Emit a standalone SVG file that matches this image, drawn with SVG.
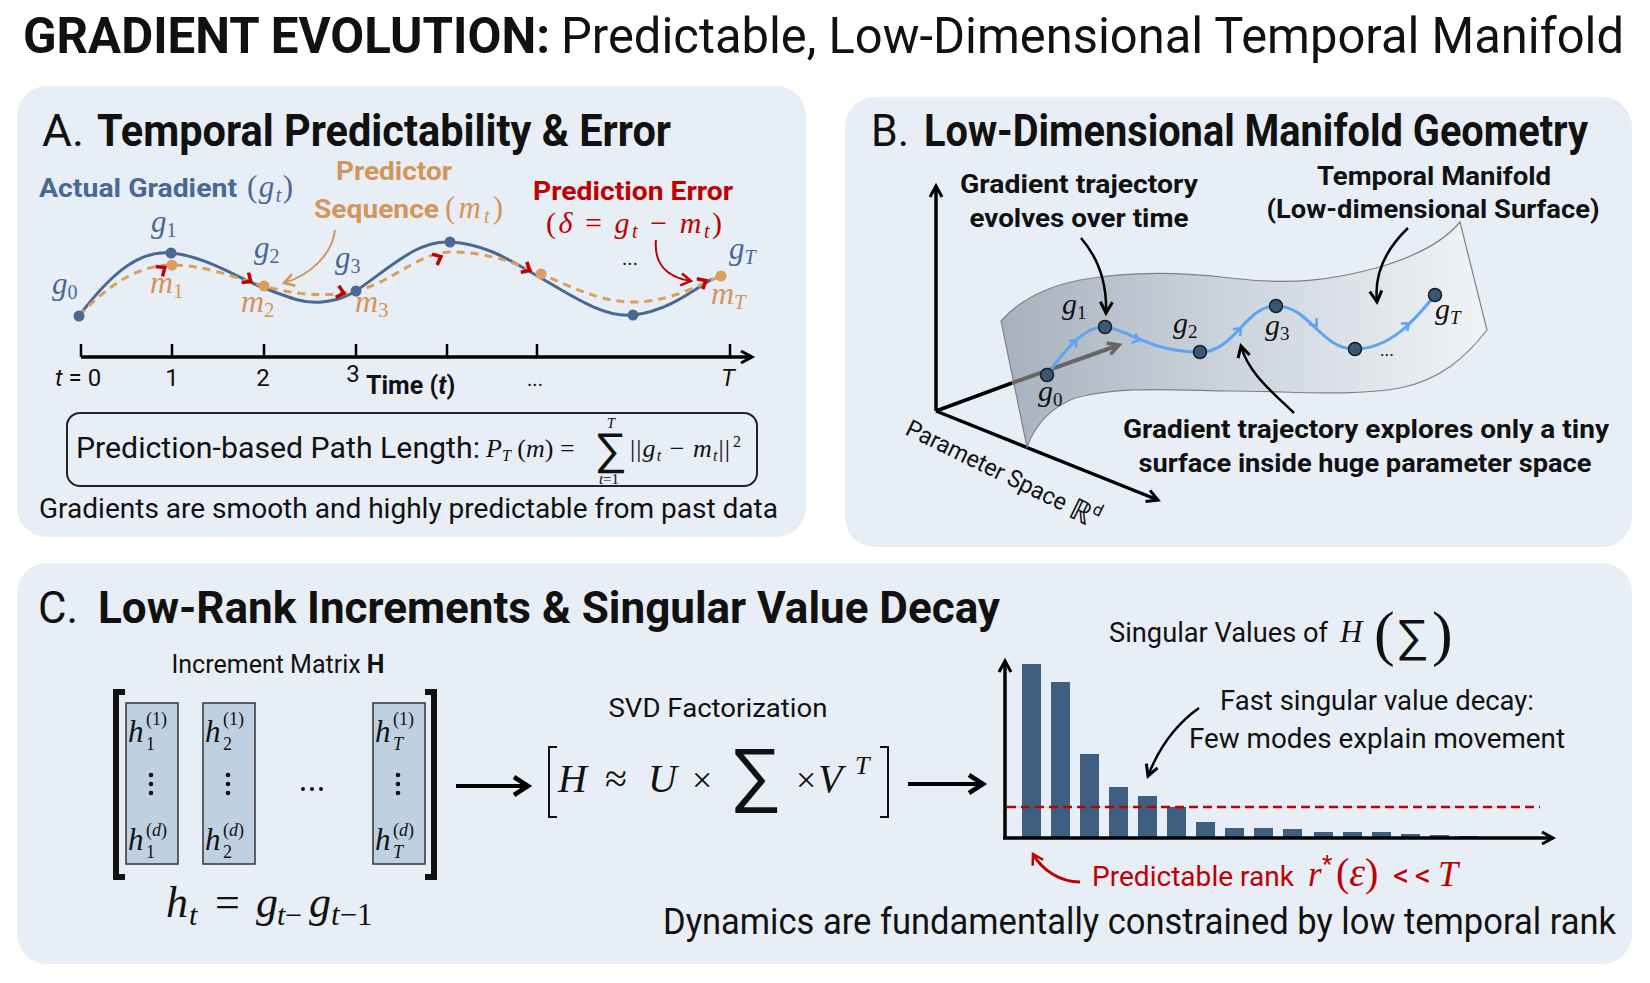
<svg xmlns="http://www.w3.org/2000/svg" width="1650" height="983" viewBox="0 0 1650 983">
<defs>
<style>
text{font-family:Roboto,'Open Sans','Liberation Sans',sans-serif;fill:#111}
.m,.m text{font-family:'Liberation Serif','DejaVu Serif',serif;font-style:italic}
.r,.m .r{font-style:normal}
.b{font-weight:700}
.panel{fill:#e8eef5}
.ax{stroke:#000;stroke-width:3.5;fill:none}
.slate{fill:#4a6894}
.tan{fill:#d4955a}
.red{fill:#c00000}
.bdot{fill:#4a6894}
.odot{fill:#dc9e5c}
.chev{fill:none;stroke:#c00000;stroke-width:3.5}
.bchev{fill:none;stroke:#5ea4f5;stroke-width:2.5}
.node{fill:#3d5672;stroke:#15202e;stroke-width:1.5}
.col{fill:#bfd0e1;stroke:#333;stroke-width:1.5}
.bar{fill:#3e5f80}
.ann{fill:none;stroke:#000;stroke-width:2.5}
</style>
<linearGradient id="surf" x1="0" y1="0" x2="1" y2="0">
<stop offset="0" stop-color="#a7b1bd"/>
<stop offset="0.45" stop-color="#cad2db"/>
<stop offset="1" stop-color="#f1f4f6"/>
</linearGradient>
<marker id="ahK" markerUnits="userSpaceOnUse" markerWidth="20" markerHeight="20" viewBox="0 0 20 20" refX="16" refY="10" orient="auto"><path d="M5,4 L16,10 L5,16" fill="none" stroke="#000" stroke-width="3"/></marker>
<marker id="ahT" markerUnits="userSpaceOnUse" markerWidth="20" markerHeight="20" viewBox="0 0 20 20" refX="16" refY="10" orient="auto"><path d="M6,4 L16,10 L6,16" fill="none" stroke="#d4955a" stroke-width="2.5"/></marker>
<marker id="ahR" markerUnits="userSpaceOnUse" markerWidth="20" markerHeight="20" viewBox="0 0 20 20" refX="16" refY="10" orient="auto"><path d="M6,4 L16,10 L6,16" fill="none" stroke="#c00000" stroke-width="2.5"/></marker>
<marker id="ahG" markerUnits="userSpaceOnUse" markerWidth="20" markerHeight="20" viewBox="0 0 20 20" refX="16" refY="10" orient="auto"><path d="M5,4 L16,10 L5,16" fill="none" stroke="#666" stroke-width="3.5"/></marker>
<marker id="ahB" markerUnits="userSpaceOnUse" markerWidth="26" markerHeight="26" viewBox="0 0 26 26" refX="21" refY="13" orient="auto"><path d="M7,4 L21,13 L7,22" fill="none" stroke="#000" stroke-width="4.5"/></marker>
</defs>
<rect width="1650" height="983" fill="#fff"/>

<g id="title">
<text x="23" y="53" font-size="50" class="b" textLength="527" lengthAdjust="spacingAndGlyphs">GRADIENT EVOLUTION:</text>
<text x="561" y="53" font-size="50" textLength="1063" lengthAdjust="spacingAndGlyphs">Predictable, Low-Dimensional Temporal Manifold</text>
</g>

<!-- Panel A -->
<g id="panelA">
<rect class="panel" x="17" y="86" width="789" height="451" rx="30"/>
<text x="42" y="146" font-size="44" textLength="42" lengthAdjust="spacingAndGlyphs">A.</text>
<text x="97" y="146" font-size="44" class="b" textLength="574" lengthAdjust="spacingAndGlyphs">Temporal Predictability &amp;  Error</text>

<text x="39" y="197" font-size="26" class="b slate" textLength="198" lengthAdjust="spacingAndGlyphs">Actual Gradient</text>
<text x="247" y="197" font-size="31" class="m slate" textLength="46" lengthAdjust="spacing"><tspan class="r">(</tspan>g<tspan font-size="20" dy="5">t</tspan><tspan class="r" dy="-5">)</tspan></text>

<text x="394" y="180" font-size="26" class="b tan" text-anchor="middle" textLength="116" lengthAdjust="spacingAndGlyphs">Predictor</text>
<text x="314" y="218" font-size="26" class="b tan" textLength="125" lengthAdjust="spacingAndGlyphs">Sequence</text>
<text x="445" y="218" font-size="31" class="m tan" textLength="58" lengthAdjust="spacing"><tspan class="r">(</tspan>m<tspan font-size="20" dy="5">t</tspan><tspan class="r" dy="-5">)</tspan></text>

<text x="533" y="200" font-size="26" class="b red" textLength="200" lengthAdjust="spacingAndGlyphs">Prediction Error</text>
<text x="546" y="233" font-size="30" class="m red" textLength="176" lengthAdjust="spacing"><tspan class="r">(</tspan>δ <tspan class="r">=</tspan> g<tspan font-size="20" dy="5">t</tspan><tspan class="r" dy="-5"> − </tspan>m<tspan font-size="20" dy="5">t</tspan><tspan class="r" dy="-5">)</tspan></text>

<!-- curves -->
<path d="M79,316 C112,272 140,250 171,253 C205,256 238,278 264,288 C290,298 305,304 322,302 C338,300 346,297 356,291 C392,266 418,240 450,242 C488,244 512,262 541,278 C572,296 604,318 633,315 C665,312 690,293 712,279" fill="none" stroke="#4a6894" stroke-width="3"/>
<path d="M79,316 C108,285 138,265 172,265 C205,265 236,278 264,286 C292,294 322,298 356,291 C392,283 418,252 452,252 C488,252 514,263 541,274 C572,287 600,302 633,302 C668,302 695,287 721,276" fill="none" stroke="#dc9e5c" stroke-width="3" stroke-dasharray="8 6"/>

<path class="chev" transform="translate(164,268) rotate(-35)" d="M-6,-6 L1,0 L-6,6"/>
<path class="chev" transform="translate(250,281) rotate(35)" d="M-6,-6 L1,0 L-6,6"/>
<path class="chev" transform="translate(343,293) rotate(15)" d="M-6,-6 L1,0 L-6,6"/>
<path class="chev" transform="translate(440,257) rotate(-25)" d="M-6,-6 L1,0 L-6,6"/>
<path class="chev" transform="translate(529,270) rotate(30)" d="M-6,-6 L1,0 L-6,6"/>
<path class="chev" transform="translate(705,281) rotate(-30)" d="M-6,-6 L1,0 L-6,6"/>

<circle class="bdot" cx="79" cy="316" r="5.5"/>
<circle class="bdot" cx="171" cy="253" r="5.5"/>
<circle class="bdot" cx="356" cy="291" r="5.5"/>
<circle class="bdot" cx="450" cy="242" r="5.5"/>
<circle class="bdot" cx="633" cy="315" r="5.5"/>
<circle class="odot" cx="172" cy="265" r="5.5"/>
<circle class="odot" cx="264" cy="286" r="5.5"/>
<circle class="odot" cx="541" cy="274" r="5.5"/>
<circle class="odot" cx="721" cy="276" r="5.5"/>

<text x="52" y="294" font-size="31" class="m slate">g<tspan class="r" font-size="20" dy="5">0</tspan></text>
<text x="151" y="232" font-size="31" class="m slate">g<tspan class="r" font-size="20" dy="5">1</tspan></text>
<text x="150" y="293" font-size="32" class="m tan">m<tspan class="r" font-size="21" dy="5">1</tspan></text>
<text x="254" y="258" font-size="31" class="m slate">g<tspan class="r" font-size="20" dy="5">2</tspan></text>
<text x="241" y="312" font-size="32" class="m tan">m<tspan class="r" font-size="21" dy="5">2</tspan></text>
<text x="335" y="268" font-size="31" class="m slate">g<tspan class="r" font-size="20" dy="5">3</tspan></text>
<text x="355" y="312" font-size="32" class="m tan">m<tspan class="r" font-size="21" dy="5">3</tspan></text>
<text x="630" y="265" font-size="20" text-anchor="middle">...</text>
<text x="729" y="259" font-size="31" class="m slate">g<tspan font-size="20" dy="5">T</tspan></text>
<text x="711" y="304" font-size="32" class="m tan">m<tspan font-size="21" dy="5">T</tspan></text>

<!-- time axis -->
<path class="ax" d="M81,357 H752" stroke-width="3" marker-end="url(#ahK)"/>
<path d="M81,344 V357 M172,344 V357 M264,344 V357 M356,344 V357 M447,344 V357 M537,344 V357 M730,344 V357" stroke="#000" stroke-width="2.5"/>
<text x="55" y="386" font-size="24"><tspan font-style="italic">t</tspan> = 0</text>
<text x="172" y="386" font-size="24" text-anchor="middle">1</text>
<text x="263" y="386" font-size="24" text-anchor="middle">2</text>
<text x="353" y="382" font-size="24" text-anchor="middle">3</text>
<text x="366" y="394" font-size="25" class="b">Time (<tspan font-style="italic">t</tspan>)</text>
<text x="535" y="386" font-size="20" text-anchor="middle">...</text>
<text x="728" y="386" font-size="24" font-style="italic" text-anchor="middle">T</text>

<!-- formula box -->
<rect x="67" y="413" width="690" height="73" rx="13" fill="none" stroke="#222" stroke-width="2"/>
<text x="76" y="458" font-size="29" textLength="404" lengthAdjust="spacingAndGlyphs">Prediction-based Path Length:</text>
<text x="486" y="457" font-size="26" class="m">P<tspan font-size="16" dy="4">T</tspan><tspan class="r" dy="-4"> (</tspan>m<tspan class="r">) =</tspan></text>
<text x="610" y="467" font-size="47" class="r" text-anchor="middle" font-family="'DejaVu Serif',serif">∑</text>
<text x="611" y="428" font-size="15" class="m" text-anchor="middle">T</text>
<text x="609" y="484" font-size="15" class="m" text-anchor="middle">t<tspan class="r">=1</tspan></text>
<text x="630" y="457" font-size="26" class="m" textLength="100" lengthAdjust="spacing"><tspan class="r">||</tspan>g<tspan font-size="16" dy="4">t</tspan><tspan class="r" dy="-4"> − </tspan>m<tspan font-size="16" dy="4">t</tspan><tspan class="r" dy="-4">||</tspan></text>
<text x="733" y="447" font-size="16" class="r m">2</text>

<text x="39" y="518" font-size="27" textLength="739" lengthAdjust="spacingAndGlyphs">Gradients are smooth and highly predictable from past data</text>
</g>

<!-- Panel B -->
<g id="panelB">
<rect class="panel" x="845" y="97" width="787" height="450" rx="30"/>
<text x="871" y="146" font-size="44" textLength="38" lengthAdjust="spacingAndGlyphs">B.</text>
<text x="924" y="146" font-size="44" class="b" textLength="664" lengthAdjust="spacingAndGlyphs">Low-Dimensional Manifold Geometry</text>

<!-- axes -->
<path class="ax" d="M936,411 V186" marker-end="url(#ahK)"/>
<path class="ax" d="M936,411 L1158,500" marker-end="url(#ahK)"/>
<path class="ax" d="M936,411 L1012,383"/>

<!-- manifold -->
<path d="M1001,321 C1015,305 1040,288 1080,280 C1130,271 1180,272 1230,278 C1290,285 1330,281 1380,267 C1420,255 1445,240 1460,222 L1487,330 C1465,358 1440,380 1400,388 C1350,397 1290,391 1230,391 C1170,390 1120,386 1075,398 C1050,408 1035,425 1027,447 Z" fill="url(#surf)" stroke="#808080" stroke-width="1.2"/>

<path d="M1012,383 L1119,345" stroke="#666" stroke-width="4" fill="none" marker-end="url(#ahG)"/>

<path d="M1047,375 C1065,350 1085,325 1105,327 C1130,330 1150,352 1200,352 C1235,352 1245,306 1276,306 C1310,306 1320,349 1355,349 C1390,349 1415,320 1435,295" fill="none" stroke="#5ea4f5" stroke-width="3"/>
<path class="bchev" transform="translate(1076,341) rotate(-43)" d="M-5,-5 L1,0 L-5,5"/>
<path class="bchev" transform="translate(1138,340) rotate(22)" d="M-5,-5 L1,0 L-5,5"/>
<path class="bchev" transform="translate(1240,329) rotate(-47)" d="M-5,-5 L1,0 L-5,5"/>
<path class="bchev" transform="translate(1316,325) rotate(50)" d="M-5,-5 L1,0 L-5,5"/>
<path class="bchev" transform="translate(1408,324) rotate(-40)" d="M-5,-5 L1,0 L-5,5"/>

<circle class="node" cx="1047" cy="375" r="6.5"/>
<circle class="node" cx="1105" cy="327" r="6.5"/>
<circle class="node" cx="1200" cy="352" r="6.5"/>
<circle class="node" cx="1276" cy="306" r="6.5"/>
<circle class="node" cx="1355" cy="349" r="6.5"/>
<circle class="node" cx="1435" cy="295" r="6.5"/>

<text x="1038" y="401" font-size="30" class="m">g<tspan class="r" font-size="19" dy="5">0</tspan></text>
<text x="1062" y="314" font-size="30" class="m">g<tspan class="r" font-size="19" dy="5">1</tspan></text>
<text x="1173" y="333" font-size="30" class="m">g<tspan class="r" font-size="19" dy="5">2</tspan></text>
<text x="1265" y="335" font-size="30" class="m">g<tspan class="r" font-size="19" dy="5">3</tspan></text>
<text x="1435" y="319" font-size="30" class="m">g<tspan font-size="19" dy="5">T</tspan></text>
<text x="1387" y="356" font-size="18" text-anchor="middle">...</text>

<text x="1079" y="193" font-size="25" class="b" text-anchor="middle" textLength="238" lengthAdjust="spacingAndGlyphs">Gradient trajectory</text>
<text x="1079" y="227" font-size="25" class="b" text-anchor="middle" textLength="219" lengthAdjust="spacingAndGlyphs">evolves over time</text>
<text x="1434" y="185" font-size="25" class="b" text-anchor="middle" textLength="234" lengthAdjust="spacingAndGlyphs">Temporal Manifold</text>
<text x="1433" y="218" font-size="25" class="b" text-anchor="middle" textLength="333" lengthAdjust="spacingAndGlyphs">(Low-dimensional Surface)</text>
<text x="1366" y="438" font-size="25" class="b" text-anchor="middle" textLength="486" lengthAdjust="spacingAndGlyphs">Gradient trajectory explores only a tiny</text>
<text x="1365" y="472" font-size="25" class="b" text-anchor="middle" textLength="453" lengthAdjust="spacingAndGlyphs">surface inside huge parameter space</text>

<text transform="translate(904,434) rotate(26)" font-size="24" textLength="176" lengthAdjust="spacingAndGlyphs">Parameter Space</text>
<text transform="translate(904,434) rotate(26) translate(182,2)" font-size="30" font-family="'DejaVu Serif',serif">ℝ<tspan font-size="17" dy="-13">d</tspan></text>
</g>

<!-- Panel C -->
<g id="panelC">
<rect class="panel" x="17" y="563" width="1615" height="401" rx="30"/>
<text x="38" y="623" font-size="44" textLength="40" lengthAdjust="spacingAndGlyphs">C.</text>
<text x="98" y="623" font-size="44" class="b" textLength="902" lengthAdjust="spacingAndGlyphs">Low-Rank Increments &amp; Singular Value Decay</text>

<text x="278" y="673" font-size="25" text-anchor="middle">Increment Matrix <tspan class="b">H</tspan></text>

<path d="M125,692 H116 V877 H125" fill="none" stroke="#111" stroke-width="6"/>
<path d="M425,692 H434 V877 H425" fill="none" stroke="#111" stroke-width="6"/>

<rect class="col" x="126" y="703" width="52" height="161"/>
<rect class="col" x="203" y="703" width="52" height="161"/>
<rect class="col" x="373" y="703" width="52" height="161"/>

<g class="m" font-size="31">
<text x="128" y="742">h</text><text x="146" y="725" font-size="18" class="r">(1)</text><text x="146" y="750" font-size="18" class="r">1</text>
<text x="128" y="850">h</text><text x="146" y="836" font-size="18"><tspan class="r">(</tspan>d<tspan class="r">)</tspan></text><text x="146" y="858" font-size="18" class="r">1</text>
<text x="205" y="742">h</text><text x="223" y="725" font-size="18" class="r">(1)</text><text x="223" y="750" font-size="18" class="r">2</text>
<text x="205" y="850">h</text><text x="223" y="836" font-size="18"><tspan class="r">(</tspan>d<tspan class="r">)</tspan></text><text x="223" y="858" font-size="18" class="r">2</text>
<text x="375" y="742">h</text><text x="393" y="725" font-size="18" class="r">(1)</text><text x="393" y="750" font-size="18">T</text>
<text x="375" y="850">h</text><text x="393" y="836" font-size="18"><tspan class="r">(</tspan>d<tspan class="r">)</tspan></text><text x="393" y="858" font-size="18">T</text>
</g>
<g fill="#111">
<circle cx="151" cy="775" r="2.3"/><circle cx="151" cy="784" r="2.3"/><circle cx="151" cy="793" r="2.3"/>
<circle cx="228" cy="775" r="2.3"/><circle cx="228" cy="784" r="2.3"/><circle cx="228" cy="793" r="2.3"/>
<circle cx="398" cy="775" r="2.3"/><circle cx="398" cy="784" r="2.3"/><circle cx="398" cy="793" r="2.3"/>
<circle cx="303" cy="789" r="2"/><circle cx="312" cy="789" r="2"/><circle cx="321" cy="789" r="2"/>
</g>

<g class="m">
<text x="166" y="917" font-size="44">h</text>
<text x="189" y="925" font-size="30">t</text>
<text x="215" y="917" font-size="44" class="r">=</text>
<text x="256" y="917" font-size="44">g</text>
<text x="277" y="925" font-size="30">t<tspan class="r">−</tspan></text>
<text x="309" y="917" font-size="44">g</text>
<text x="331" y="925" font-size="31">t<tspan class="r">−1</tspan></text>
</g>

<path d="M456,786 H528" stroke="#000" stroke-width="4" marker-end="url(#ahB)"/>

<text x="718" y="717" font-size="26" text-anchor="middle" textLength="219" lengthAdjust="spacingAndGlyphs">SVD Factorization</text>
<path d="M557,747 H549 V817 H557" fill="none" stroke="#111" stroke-width="2"/>
<path d="M880,747 H888 V817 H880" fill="none" stroke="#111" stroke-width="2"/>
<text x="558" y="792" font-size="40" class="m">H</text>
<text x="605" y="792" font-size="40" class="m r">≈</text>
<text x="648" y="792" font-size="40" class="m">U</text>
<text x="692" y="792" font-size="36" class="m r">×</text>
<text x="755" y="803" font-size="76" class="r" text-anchor="middle" font-family="'DejaVu Serif',serif">∑</text>
<text x="796" y="792" font-size="36" class="m r">×</text>
<text x="818" y="792" font-size="40" class="m">V</text>
<text x="855" y="774" font-size="26" class="m">T</text>

<path d="M908,784 H983" stroke="#000" stroke-width="4" marker-end="url(#ahB)"/>

<!-- bar chart -->
<text x="1109" y="642" font-size="27" textLength="219" lengthAdjust="spacingAndGlyphs">Singular Values of</text>
<text x="1340" y="642" font-size="31" class="m">H</text>
<text x="1374" y="654" font-size="62" class="m r">(</text>
<text x="1412" y="654" font-size="48" class="r" text-anchor="middle" font-family="'DejaVu Serif',serif">∑</text>
<text x="1432" y="654" font-size="62" class="m r">)</text>

<g class="bar">
<rect x="1022" y="664" width="19" height="174"/>
<rect x="1051" y="682" width="19" height="156"/>
<rect x="1080" y="754" width="19" height="84"/>
<rect x="1109" y="787" width="19" height="51"/>
<rect x="1138" y="796" width="19" height="42"/>
<rect x="1167" y="807" width="19" height="31"/>
<rect x="1196" y="822" width="19" height="16"/>
<rect x="1225" y="828" width="19" height="10"/>
<rect x="1254" y="828" width="19" height="10"/>
<rect x="1283" y="829" width="19" height="9"/>
<rect x="1314" y="832" width="19" height="6"/>
<rect x="1343" y="832" width="19" height="6"/>
<rect x="1372" y="832" width="19" height="6"/>
<rect x="1401" y="834" width="19" height="4"/>
<rect x="1430" y="835" width="19" height="3"/>
<rect x="1459" y="836" width="19" height="2"/>
</g>
<path d="M1007,807 H1540" stroke="#c00000" stroke-width="2.5" stroke-dasharray="9 5"/>
<path class="ax" d="M1005,838 V661" stroke-width="4" marker-end="url(#ahK)"/>
<path class="ax" d="M1003,838 H1553" stroke-width="4" marker-end="url(#ahK)"/>

<text x="1220" y="710" font-size="27" textLength="314" lengthAdjust="spacingAndGlyphs">Fast singular value decay:</text>
<text x="1189" y="748" font-size="27" textLength="376" lengthAdjust="spacingAndGlyphs">Few modes explain movement</text>

<text x="1092" y="886" font-size="27" class="red" textLength="202" lengthAdjust="spacingAndGlyphs">Predictable rank</text>
<text x="1308" y="886" font-size="35" class="m red">r</text>
<text x="1322" y="872" font-size="24" class="r red">*</text>
<text x="1336" y="886" font-size="40" class="m red"><tspan class="r">(</tspan>ε<tspan class="r">)</tspan></text>
<text x="1393" y="886" font-size="32" class="r red" textLength="38" lengthAdjust="spacing">&lt;&lt;</text>
<text x="1438" y="886" font-size="36" class="m red">T</text>

<text x="663" y="934" font-size="37" textLength="953" lengthAdjust="spacingAndGlyphs">Dynamics are fundamentally constrained by low temporal rank</text>
</g>

<!-- connectors / annotation arrows -->
<g id="connectors">
<path d="M335,230 C332,255 310,275 284,283" fill="none" stroke="#d4955a" stroke-width="2" marker-end="url(#ahT)"/>
<path d="M656,240 C654,262 665,277 691,281" fill="none" stroke="#c00000" stroke-width="2" marker-end="url(#ahR)"/>
<path class="ann" d="M1081,238 C1100,260 1107,285 1106,313" marker-end="url(#ahK)"/>
<path class="ann" d="M1408,228 C1385,250 1374,275 1377,302" marker-end="url(#ahK)"/>
<path class="ann" d="M1294,413 C1270,390 1248,372 1241,346" marker-end="url(#ahK)"/>
<path class="ann" d="M1199,708 C1175,725 1158,750 1148,776" marker-end="url(#ahK)"/>
<path d="M1080,882 C1060,882 1042,870 1033,854" fill="none" stroke="#c00000" stroke-width="3" marker-end="url(#ahR)"/>
</g>
</svg>
